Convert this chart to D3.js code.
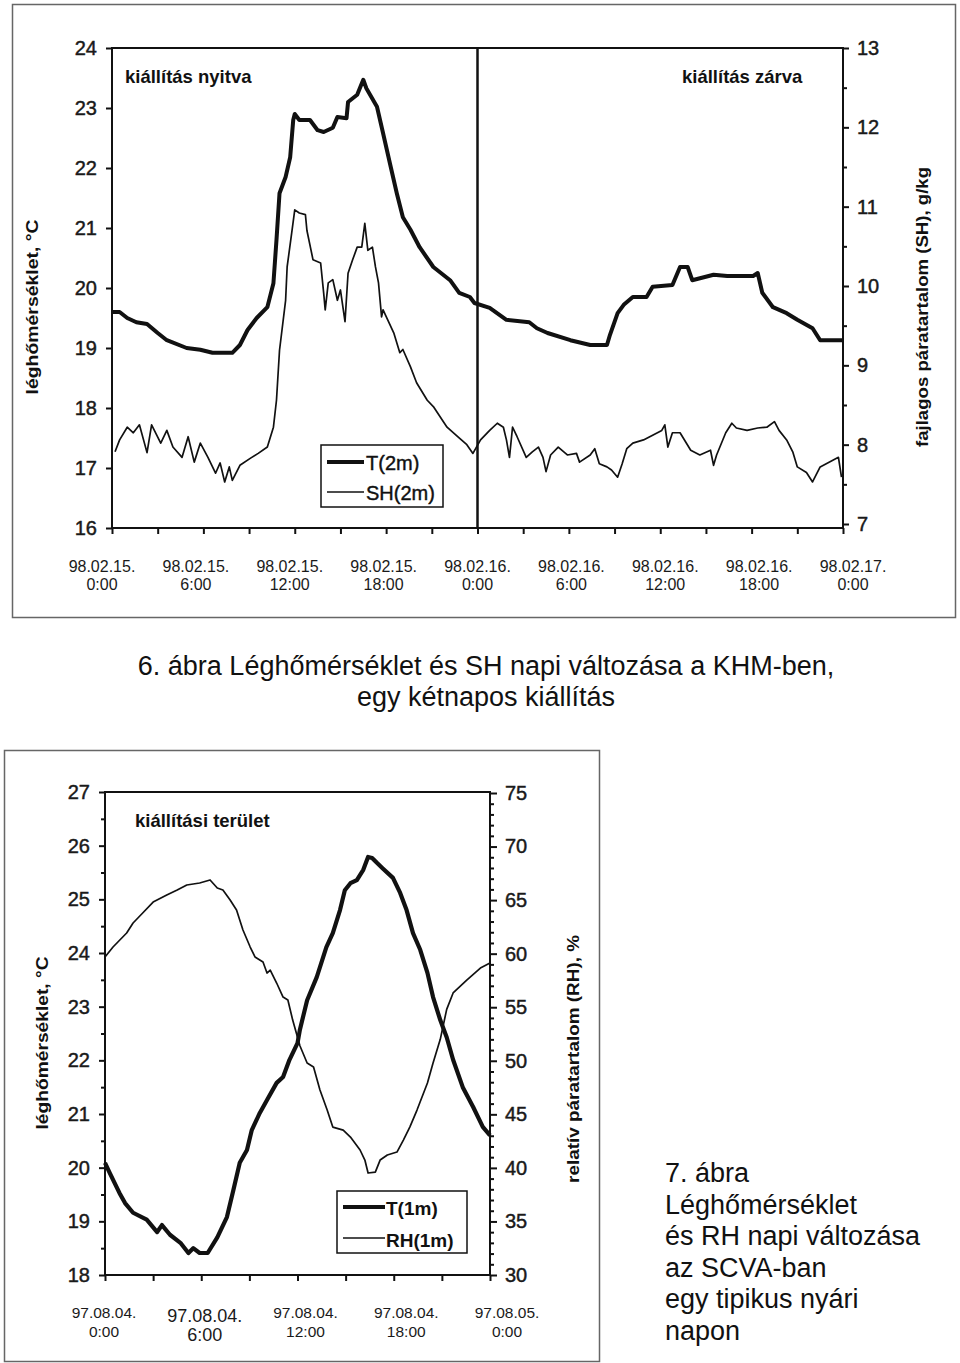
<!DOCTYPE html>
<html>
<head>
<meta charset="utf-8">
<script src="https://cdn.jsdelivr.net/npm/d3@7"></script>
<style>
  body { margin: 0; background: #fff; }
  svg { display: block; font-family: "Liberation Sans", Arial, sans-serif; }
</style>
</head>
<body>
<svg id="chart" width="960" height="1363"></svg>
<script>
// ---------------- Figure 6 data (hours from 98.02.15. 0:00) ----------------
const topTHours = [0,0.5,1.0,1.6,2.3,3.0,3.6,4.9,5.8,6.6,7.9,8.4,8.9,9.5,10.2,10.6,10.8,11.0,11.4,11.7,11.9,12.0,12.3,13.0,13.5,13.9,14.5,14.8,15.4,15.5,16.1,16.5,16.7,17.4,17.8,18.3,18.7,19.1,19.6,20.2,21.1,22.2,22.8,23.5,23.8,24.8,25.9,27.4,27.9,28.6,30.1,31.4,32.5,32.7,33.2,33.6,34.2,35.1,35.5,36.8,37.3,37.8,38.1,39.5,40.4,42.1,42.4,42.7,43.4,44.3,45.0,46.0,46.5,48];
const topTValues = [19.6,19.6,19.5,19.43,19.4,19.25,19.13,19.0,18.97,18.92,18.92,19.05,19.3,19.5,19.68,20.08,20.8,21.58,21.85,22.18,22.8,22.9,22.8,22.8,22.63,22.6,22.67,22.85,22.83,23.1,23.22,23.47,23.33,23.02,22.58,22.02,21.58,21.18,20.97,20.68,20.35,20.13,19.92,19.85,19.75,19.67,19.47,19.43,19.33,19.25,19.13,19.05,19.05,19.22,19.58,19.72,19.85,19.85,20.02,20.05,20.35,20.35,20.13,20.22,20.2,20.2,20.25,19.92,19.68,19.58,19.47,19.33,19.13,19.13];
const topSHHours = [0.2,0.5,1.0,1.4,1.8,2.3,2.6,3.2,3.6,4.0,4.6,5.0,5.4,5.8,6.3,6.8,7.1,7.4,7.7,7.9,8.4,9.1,9.6,10.2,10.6,10.8,11.0,11.4,11.5,11.8,12.0,12.3,12.7,12.8,13.2,13.7,13.9,14.0,14.2,14.5,14.8,15.0,15.3,15.5,15.8,16.1,16.4,16.6,16.8,17.1,17.3,17.5,17.7,17.8,18.5,18.9,19.1,19.6,20.0,20.7,21.1,22.0,22.7,23.3,23.7,24.2,24.8,25.3,25.7,25.9,26.1,26.3,26.6,27.2,27.6,28.0,28.3,28.5,28.8,29.3,29.9,30.5,30.7,31.4,31.7,32.0,32.5,32.8,33.2,33.5,33.8,34.2,34.9,35.5,36.1,36.3,36.5,36.8,37.3,38.0,38.6,39.3,39.5,39.7,40.3,40.7,41.0,41.7,42.4,43.0,43.5,43.8,44.3,44.7,45.0,45.6,46.0,46.5,46.9,47.3,47.7,47.9];
const topSHValues = [7.91,8.06,8.22,8.15,8.25,7.90,8.25,8.02,8.18,7.97,7.84,8.10,7.78,8.02,7.84,7.64,7.77,7.53,7.72,7.55,7.74,7.83,7.89,7.97,8.22,8.56,9.19,9.82,10.24,10.67,10.96,10.92,10.90,10.70,10.33,10.29,9.91,9.70,10.04,10.08,9.82,9.95,9.55,10.16,10.33,10.49,10.49,10.79,10.45,10.49,10.24,10.04,9.61,9.70,9.41,9.16,9.20,8.98,8.78,8.56,8.48,8.22,8.10,8.00,7.89,8.06,8.18,8.27,8.22,8.06,7.84,8.22,8.10,7.84,7.91,7.97,7.84,7.66,7.87,7.97,7.87,7.89,7.78,7.87,7.95,7.76,7.72,7.68,7.59,7.76,7.95,8.02,8.06,8.12,8.18,8.25,7.97,8.15,8.15,7.93,7.87,7.93,7.74,7.87,8.15,8.27,8.21,8.18,8.21,8.22,8.29,8.18,8.06,7.91,7.72,7.65,7.53,7.72,7.76,7.80,7.84,7.59];
const topLeftTicks = [16,17,18,19,20,21,22,23,24];
const topRightTicks = [7,8,9,10,11,12,13];
const topDateLabels = [["98.02.15.","0:00"],["98.02.15.","6:00"],["98.02.15.","12:00"],["98.02.15.","18:00"],["98.02.16.","0:00"],["98.02.16.","6:00"],["98.02.16.","12:00"],["98.02.16.","18:00"],["98.02.17.","0:00"]];
const topLegend = ["T(2m)","SH(2m)"];

// ---------------- Figure 7 data (hours from 97.08.04. 0:00) ----------------
const botTHours = [0,0.3,0.9,1.25,1.75,2.6,3.25,3.55,4.05,4.7,5.2,5.5,5.9,6.4,7.0,7.6,8.0,8.4,8.85,9.15,9.65,10.1,10.7,11.1,11.5,12.0,12.15,12.6,13.2,13.8,14.2,14.65,14.95,15.3,15.7,16.1,16.4,16.65,16.95,17.3,17.95,18.4,18.8,19.2,19.65,20.1,20.45,20.9,21.3,21.7,22.3,22.95,23.55,24];
const botTValues = [20.09,19.9,19.53,19.34,19.16,19.03,18.8,18.93,18.75,18.6,18.41,18.5,18.41,18.41,18.7,19.08,19.58,20.09,20.33,20.7,21.02,21.26,21.58,21.69,22.01,22.32,22.57,23.12,23.55,24.11,24.37,24.8,25.17,25.3,25.36,25.55,25.79,25.77,25.68,25.58,25.4,25.12,24.8,24.37,24.06,23.63,23.18,22.75,22.43,22.01,21.5,21.13,20.76,20.6];
const botRHHours = [0,0.5,1.35,1.75,2.35,3.0,3.85,4.5,5.1,5.9,6.55,7.0,7.35,7.8,8.2,8.6,9.05,9.35,9.85,10.1,10.3,10.7,11.1,11.4,11.7,12.15,12.6,13.0,13.4,13.85,14.2,14.85,15.3,15.9,16.2,16.4,16.85,17.15,17.6,18.2,18.6,19.0,19.45,20.1,20.45,20.9,21.3,21.7,22.55,23.4,24];
const botRHValues = [59.69,60.62,61.93,62.86,63.8,64.82,65.48,65.94,66.41,66.6,66.88,66.13,65.94,65.01,64.08,62.21,60.62,59.69,59.22,58.19,58.47,57.26,55.95,55.67,53.8,51.4,49.79,49.42,47.27,45.4,43.81,43.53,42.88,41.67,40.73,39.52,39.61,40.73,41.2,41.48,42.6,43.81,45.4,47.92,49.79,52.0,54.8,56.33,57.54,58.66,59.13];
const botLeftTicks = [18,19,20,21,22,23,24,25,26,27];
const botRightTicks = [30,35,40,45,50,55,60,65,70,75];
const botDateLabels = [["97.08.04.","0:00"],["97.08.04.","6:00"],["97.08.04.","12:00"],["97.08.04.","18:00"],["97.08.05.","0:00"]];
const botLegend = ["T(1m)","RH(1m)"];

const caption6 = ["6. ábra Léghőmérséklet és SH napi változása a KHM-ben,", "egy kétnapos kiállítás"];
const caption7 = ["7. ábra","Léghőmérséklet","és RH napi változása","az SCVA-ban","egy tipikus nyári","napon"];

// ---------------- drawing ----------------
const svg = d3.select("#chart");
svg.append("rect").attr("width",960).attr("height",1363).attr("fill","#fff");
const INK = "#111";

function styleAxis(g, fs) {
  g.select(".domain").remove();
  g.selectAll(".tick line").attr("stroke", INK).attr("stroke-width", 2);
  g.selectAll(".tick text").attr("fill", "#1a1a1a").attr("font-size", fs)
    .attr("stroke", "#1a1a1a").attr("stroke-width", 0.45)
    .attr("font-family", '"Liberation Sans", Arial, sans-serif');
}
function range(a, b, s) { return d3.range(a, b + s / 2, s); }

// ===== Figure 6 =====
svg.append("rect").attr("x",12.5).attr("y",4.5).attr("width",943).attr("height",613)
  .attr("fill","none").attr("stroke","#666").attr("stroke-width",1.5);

const x1 = d3.scaleLinear().domain([0,48]).range([112,843]);
const x1lab = d3.scaleLinear().domain([0,48]).range([102,853]);
const yT1 = d3.scaleLinear().domain([16,24]).range([528,48]);
const ySH = d3.scaleLinear().domain([7,13]).range([524,48]);

const g1 = svg.append("g");
g1.append("g").attr("transform","translate(112,0)")
  .call(d3.axisLeft(yT1).tickValues(topLeftTicks).tickSize(6).tickPadding(9).tickFormat(d3.format("d")))
  .call(g => styleAxis(g, 20));
g1.append("g").attr("transform","translate(843,0)")
  .call(d3.axisRight(ySH).tickValues(range(7.5,12.5,1)).tickSize(4).tickFormat(""))
  .call(g => styleAxis(g, 20));
g1.append("g").attr("transform","translate(843,0)")
  .call(d3.axisRight(ySH).tickValues(topRightTicks).tickSize(6).tickPadding(8).tickFormat(d3.format("d")))
  .call(g => styleAxis(g, 20));
g1.append("g").attr("transform","translate(0,528)")
  .call(d3.axisBottom(x1).tickValues(range(0,48,3)).tickSize(6).tickFormat(""))
  .call(g => styleAxis(g, 16));
// plot frame
g1.append("rect").attr("x",x1(0)).attr("y",yT1(24)).attr("width",x1(48)-x1(0)).attr("height",yT1(16)-yT1(24))
  .attr("fill","none").attr("stroke",INK).attr("stroke-width",2);
// open / closed divider
g1.append("line").attr("x1",x1(24)).attr("x2",x1(24)).attr("y1",yT1(24)).attr("y2",yT1(16))
  .attr("stroke",INK).attr("stroke-width",2.5);

// date labels
topDateLabels.forEach((lab,i) => {
  const t = g1.append("text").attr("text-anchor","middle").attr("font-size",16).attr("fill","#1a1a1a");
  t.append("tspan").attr("x", x1lab(i*6)).attr("y",572).text(lab[0]);
  t.append("tspan").attr("x", x1lab(i*6)).attr("y",590).text(lab[1]);
});

// lines
const shData = topSHHours.map((h,i)=>[h, topSHValues[i]]);
const t1Data = topTHours.map((h,i)=>[h, topTValues[i]]);
g1.append("path").datum(shData).attr("fill","none").attr("stroke",INK).attr("stroke-width",1.7)
  .attr("stroke-linejoin","round")
  .attr("d", d3.line().x(d=>x1(d[0])).y(d=>ySH(d[1])));
g1.append("path").datum(t1Data).attr("fill","none").attr("stroke",INK).attr("stroke-width",4)
  .attr("stroke-linejoin","round")
  .attr("d", d3.line().x(d=>x1(d[0])).y(d=>yT1(d[1])));

// annotations
g1.append("text").attr("x",125).attr("y",83).attr("font-size",18.5).attr("font-weight","bold").attr("fill",INK).text("kiállítás nyitva");
g1.append("text").attr("x",682).attr("y",83).attr("font-size",18.5).attr("font-weight","bold").attr("fill",INK).text("kiállítás zárva");

// axis titles
g1.append("text").attr("transform","translate(38,307) rotate(-90)").attr("text-anchor","middle")
  .attr("font-size",17).attr("font-weight","bold").attr("fill",INK)
  .attr("textLength",175).attr("lengthAdjust","spacingAndGlyphs").text("léghőmérséklet, °C");
g1.append("text").attr("transform","translate(928,307) rotate(-90)").attr("text-anchor","middle")
  .attr("font-size",17).attr("font-weight","bold").attr("fill",INK)
  .attr("textLength",280).attr("lengthAdjust","spacingAndGlyphs").text("fajlagos páratartalom (SH), g/kg");

// legend
g1.append("rect").attr("x",321).attr("y",445).attr("width",122).attr("height",62)
  .attr("fill","#fff").attr("stroke",INK).attr("stroke-width",1.5);
[[4,462,470],[1.7,492,500]].forEach((s,i)=>{
  g1.append("line").attr("x1",327).attr("x2",364).attr("y1",s[1]).attr("y2",s[1]).attr("stroke",INK).attr("stroke-width",s[0]);
  g1.append("text").attr("x",366).attr("y",s[2]).attr("font-size",20).attr("fill",INK)
    .attr("stroke",INK).attr("stroke-width",0.4).text(topLegend[i]);
});

// caption
caption6.forEach((c,i)=>{
  svg.append("text").attr("x",486).attr("y",675+i*31).attr("text-anchor","middle")
    .attr("font-size",27).attr("fill",INK).text(c);
});

// ===== Figure 7 =====
svg.append("rect").attr("x",4.5).attr("y",750.5).attr("width",595).attr("height",611)
  .attr("fill","none").attr("stroke","#666").attr("stroke-width",1.5);

const x2 = d3.scaleLinear().domain([0,24]).range([105,490]);
const x2lab = d3.scaleLinear().domain([0,24]).range([104,507]);
const yT2 = d3.scaleLinear().domain([18,27]).range([1275,792]);
const yRH = d3.scaleLinear().domain([30,75]).range([1275,793]);

const g2 = svg.append("g");
g2.append("g").attr("transform","translate(105,0)")
  .call(d3.axisLeft(yT2).tickValues(range(18.5,26.5,1)).tickSize(4).tickFormat(""))
  .call(g => styleAxis(g, 20));
g2.append("g").attr("transform","translate(105,0)")
  .call(d3.axisLeft(yT2).tickValues(botLeftTicks).tickSize(6).tickPadding(9).tickFormat(d3.format("d")))
  .call(g => styleAxis(g, 20));
g2.append("g").attr("transform","translate(490,0)")
  .call(d3.axisRight(yRH).tickValues(range(30,75,1).filter(v=>v%5!==0)).tickSize(4).tickFormat(""))
  .call(g => styleAxis(g, 20));
g2.append("g").attr("transform","translate(490,0)")
  .call(d3.axisRight(yRH).tickValues(botRightTicks).tickSize(7).tickPadding(8).tickFormat(d3.format("d")))
  .call(g => styleAxis(g, 20));
g2.append("g").attr("transform","translate(0,1275)")
  .call(d3.axisBottom(x2).tickValues(range(0,24,3)).tickSize(6).tickFormat(""))
  .call(g => styleAxis(g, 16));
g2.append("rect").attr("x",x2(0)).attr("y",yT2(27)).attr("width",x2(24)-x2(0)).attr("height",yT2(18)-yT2(27))
  .attr("fill","none").attr("stroke",INK).attr("stroke-width",2);

botDateLabels.forEach((lab,i)=>{
  const big = i === 1;
  const t = g2.append("text").attr("text-anchor","middle").attr("font-size", big ? 18 : 15.5).attr("fill","#1a1a1a");
  t.append("tspan").attr("x", x2lab(i*6)).attr("y", big ? 1322 : 1318).text(lab[0]);
  t.append("tspan").attr("x", x2lab(i*6)).attr("y", big ? 1341 : 1337).text(lab[1]);
});

const rhData = botRHHours.map((h,i)=>[h, botRHValues[i]]);
const t2Data = botTHours.map((h,i)=>[h, botTValues[i]]);
g2.append("path").datum(rhData).attr("fill","none").attr("stroke",INK).attr("stroke-width",1.7)
  .attr("stroke-linejoin","round")
  .attr("d", d3.line().x(d=>x2(d[0])).y(d=>yRH(d[1])));
g2.append("path").datum(t2Data).attr("fill","none").attr("stroke",INK).attr("stroke-width",4.2)
  .attr("stroke-linejoin","round")
  .attr("d", d3.line().x(d=>x2(d[0])).y(d=>yT2(d[1])));

g2.append("text").attr("x",135).attr("y",827).attr("font-size",18.5).attr("font-weight","bold").attr("fill",INK).text("kiállítási terület");

g2.append("text").attr("transform","translate(48,1043) rotate(-90)").attr("text-anchor","middle")
  .attr("font-size",17).attr("font-weight","bold").attr("fill",INK)
  .attr("textLength",173).attr("lengthAdjust","spacingAndGlyphs").text("léghőmérséklet, °C");
g2.append("text").attr("transform","translate(579,1059) rotate(-90)").attr("text-anchor","middle")
  .attr("font-size",17).attr("font-weight","bold").attr("fill",INK)
  .attr("textLength",248).attr("lengthAdjust","spacingAndGlyphs").text("relatív páratartalom (RH), %");

g2.append("rect").attr("x",337).attr("y",1191).attr("width",130).attr("height",62)
  .attr("fill","#fff").attr("stroke",INK).attr("stroke-width",1.5);
[[4.2,1207,1215],[1.7,1238,1247]].forEach((s,i)=>{
  g2.append("line").attr("x1",343).attr("x2",385).attr("y1",s[1]).attr("y2",s[1]).attr("stroke",INK).attr("stroke-width",s[0]);
  g2.append("text").attr("x",386).attr("y",s[2]).attr("font-size",19).attr("font-weight","bold").attr("fill",INK).text(botLegend[i]);
});

caption7.forEach((c,i)=>{
  svg.append("text").attr("x",665).attr("y",1182+i*31.6).attr("font-size",27).attr("fill",INK).text(c);
});
</script>
</body>
</html>
